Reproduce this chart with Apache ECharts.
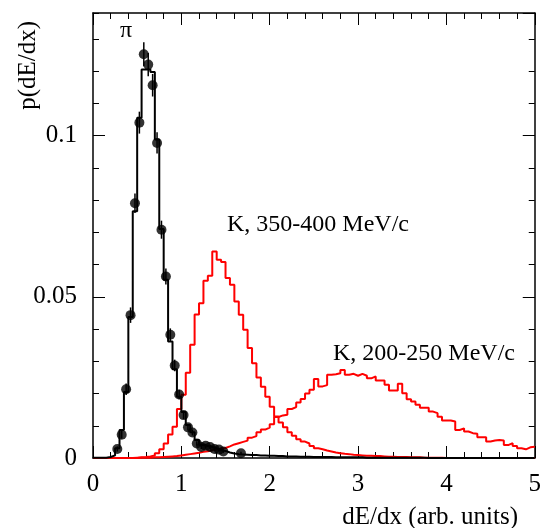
<!DOCTYPE html>
<html><head><meta charset="utf-8">
<script src="https://cdn.jsdelivr.net/npm/echarts@6/dist/echarts.min.js"></script>
<style>html,body{margin:0;padding:0;background:#fff}#c{width:544px;height:528px}</style>
</head><body><div id="c"></div>
<script>
// ---- data ----
const BIN_WIDTH = 0.05;           // histogram bin width (dE/dx units), bins start at 0
// pion MC histogram (black)
const piMC = [
 0.0001,0.0001,0.0001,0.0003,0.0008,0.0030,0.0087,0.0205,0.0437,0.0765,
 0.1055,0.1205,0.1205,0.1197,0.0988,0.0710,0.0553,0.0361,0.0275,0.0190,
 0.0143,0.0102,0.0080,0.0056,0.0040,0.0037,0.0034,0.0030,0.0025,0.0022,
 0.0017,0.0014,0.0012,0.0011,0.0010,0.0009,0.0009,0.0008,0.0008,0.0007,
 0.0007,0.0006,0.0006,0.0005,0.0005,0.0005,0.0004,0.0004,0.0004,0.0003,
 0.0003,0.0003,0.0003,0.0003,0.0002,0.0002,0.0002,0.0002,0.0002,0.0002,
 0.0002,0.0001,0.0001,0.0001,0.0001,0.0001,0.0001,0.0001,0.0001,0.0001,
 0.0001,0.0001,0.0001,0.0001,0.0001,0,0,0,0,0,
 0,0,0,0,0,0,0,0,0,0,
 0,0,0,0,0,0,0,0,0,0
];
// K, 350-400 MeV/c histogram (red)
const k350 = [
 0,0,0,0,0,0,0,0,0,0.0001,
 0.0002,0.0003,0.0005,0.0008,0.0015,0.0027,0.0045,0.0073,0.0097,0.0152,
 0.0196,0.0264,0.0351,0.0445,0.0480,0.0550,0.0565,0.0640,0.0615,0.0608,
 0.0558,0.0537,0.0485,0.0444,0.0398,0.0341,0.0294,0.0250,0.0221,0.0190,
 0.0159,0.0129,0.0110,0.0095,0.0080,0.0069,0.0058,0.0051,0.0045,0.0037,
 0.0030,0.0027,0.0023,0.0020,0.0017,0.0015,0.0013,0.0012,0.0010,0.0009,
 0.0008,0.0007,0.0007,0.0006,0.0006,0.0005,0.0004,0.0004,0.0003,0.0003,
 0.0003,0.0002,0.0002,0.0002,0.0001,0.0001,0.0001,0.0001,0.0001,0,
 0,0,0,0,0,0,0,0,0,0,
 0,0,0,0,0,0,0,0,0,0
];
// K, 200-250 MeV/c histogram (red)
const k200 = [
 0,0,0,0,0,0,0,0,0,0,
 0.0001,0.0001,0.0001,0.0002,0.0002,0.0003,0.0004,0.0005,0.0006,0.0008,
 0.0010,0.0012,0.0014,0.0016,0.0019,0.0021,0.0024,0.0026,0.0029,0.0031,
 0.0036,0.0042,0.0046,0.0050,0.0054,0.0063,0.0068,0.0080,0.0088,0.0094,
 0.0105,0.0127,0.0132,0.0134,0.0152,0.0158,0.0172,0.0183,0.0200,0.0212,
 0.0245,0.0222,0.0226,0.0258,0.0260,0.0263,0.0273,0.0258,0.0261,0.0255,
 0.0261,0.0255,0.0247,0.0253,0.0240,0.0240,0.0227,0.0209,0.0209,0.0230,
 0.0201,0.0182,0.0175,0.0165,0.0156,0.0156,0.0144,0.0139,0.0128,0.0116,
 0.0116,0.0113,0.0087,0.0092,0.0082,0.0077,0.0075,0.0064,0.0064,0.0051,
 0.0054,0.0056,0.0054,0.0040,0.0046,0.0037,0.0030,0.0027,0.0033,0.0035
];
// pion data points with errors
const dotX = [0.275,0.325,0.375,0.425,0.475,0.525,0.575,0.625,0.675,0.725,0.775,0.825,0.875,0.925,0.975,
              1.025,1.075,1.125,1.175,1.225,1.275,1.325,1.375,1.425,1.475,1.675];
const dotY = [0.0028,0.0072,0.0213,0.0443,0.0790,0.1040,0.1252,0.1220,0.1156,0.0977,0.0708,0.0563,0.0382,0.0287,0.0197,
              0.0133,0.0095,0.0079,0.0045,0.0034,0.0038,0.0034,0.0028,0.0026,0.0020,0.0015];
const dotErr = [0.0008,0.0012,0.0018,0.0024,0.0030,0.0034,0.0037,0.0036,0.0035,0.0033,0.0028,0.0025,0.0020,0.0018,0.0015,
                0.0012,0.0010,0.0009,0.0007,0.0006,0.0006,0.0006,0.0005,0.0005,0.0004,0.0004];
const X_MIN = 0, X_MAX = 5, X_MAJOR = 1, X_MINOR = 0.2;
const Y_MIN = 0, Y_MAX = 0.138, Y_MAJOR = 0.05, Y_MINOR = 0.01;

// ---- build ----
function hist(vals){
  const d = vals.map((v,i)=>[i*BIN_WIDTH, v]);
  d.push([vals.length*BIN_WIDTH, vals[vals.length-1]]);
  return d;
}
const FONT = '"Liberation Serif","Times New Roman",serif';
const chart = echarts.init(document.getElementById('c'), null, {renderer:'canvas'});
function axisLine(show){ return {show:show, onZero:false, lineStyle:{color:'#000', width:1.5}}; }
function axisX(pos, interval, len, labels, showLine){
  return {type:'value', min:X_MIN, max:X_MAX, interval:interval, position:pos,
    axisLine: axisLine(showLine),
    axisTick:{show:true, inside:true, length:len, lineStyle:{color:'#000', width:1}},
    axisLabel: labels ? {show:true, margin:14, color:'#000', fontFamily:FONT, fontSize:25} : {show:false},
    splitLine:{show:false}};
}
function axisY(pos, interval, len, labels, showLine){
  return {type:'value', min:Y_MIN, max:Y_MAX, interval:interval, position:pos,
    axisLine: axisLine(showLine),
    axisTick:{show:true, inside:true, length:len, lineStyle:{color:'#000', width:1}},
    axisLabel: labels ? {show:true, margin:16, color:'#000', fontFamily:FONT, fontSize:25, showMaxLabel:false} : {show:false},
    splitLine:{show:false}};
}
const option = {
  animation:false,
  backgroundColor:'#fff',
  grid:{left:93, top:13, width:445, height:445, containLabel:false},
  xAxis:[axisX('bottom',X_MAJOR,12,true,true), axisX('bottom',X_MINOR,6,false,false),
         axisX('top',X_MAJOR,12,false,true), axisX('top',X_MINOR,6,false,false)],
  yAxis:[axisY('left',Y_MAJOR,12,true,true), axisY('left',Y_MINOR,6,false,false),
         axisY('right',Y_MAJOR,12,false,true), axisY('right',Y_MINOR,6,false,false)],
  series:[
    {type:'line', step:'end', data:hist(k200), symbol:'none', lineStyle:{color:'#ff0000', width:2}, z:2},
    {type:'line', step:'end', data:hist(k350), symbol:'none', lineStyle:{color:'#ff0000', width:2}, z:2},
    {type:'line', step:'end', data:hist(piMC), symbol:'none', lineStyle:{color:'#000', width:2}, z:3},
    {type:'custom', z:4, data:dotX.map((x,i)=>[x, dotY[i]-dotErr[i], dotY[i]+dotErr[i]]),
      renderItem:function(params, api){
        const p1 = api.coord([api.value(0), api.value(1)]);
        const p2 = api.coord([api.value(0), api.value(2)]);
        return {type:'line', shape:{x1:p1[0], y1:p1[1], x2:p2[0], y2:p2[1]}, style:{stroke:'#000', lineWidth:1.5}};
      }},
    {type:'scatter', z:5, data:dotX.map((x,i)=>[x, dotY[i]]), symbol:'circle', symbolSize:10, itemStyle:{color:'#000'}}
  ],
  graphic:[
    {type:'text', x:120, y:31, style:{text:'π', font:'24px '+FONT, fill:'#000', textAlign:'left', textVerticalAlign:'middle'}},
    {type:'text', x:227, y:225, style:{text:'K, 350-400 MeV/c', font:'24px '+FONT, fill:'#000', textAlign:'left', textVerticalAlign:'middle'}},
    {type:'text', x:333, y:354, style:{text:'K, 200-250 MeV/c', font:'24px '+FONT, fill:'#000', textAlign:'left', textVerticalAlign:'middle'}},
    {type:'text', x:518, y:517, style:{text:'dE/dx (arb. units)', font:'25px '+FONT, fill:'#000', textAlign:'right', textVerticalAlign:'middle'}},
    {type:'text', x:28, y:21, rotation:Math.PI/2, style:{text:'p(dE/dx)', font:'25px '+FONT, fill:'#000', textAlign:'right', textVerticalAlign:'middle'}}
  ]
};
chart.setOption(option);
</script></body></html>
